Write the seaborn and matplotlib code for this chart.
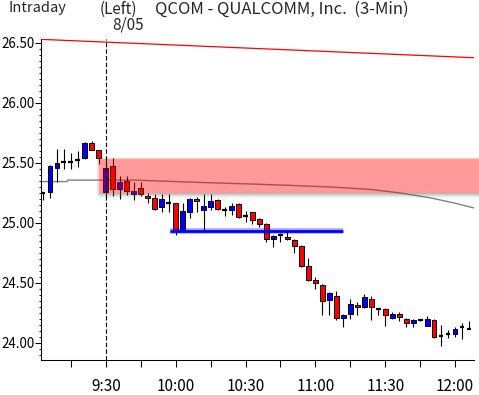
import numpy as np
import pandas as pd
import matplotlib
matplotlib.use("Agg")
import matplotlib.pyplot as plt
import seaborn as sns
from matplotlib import font_manager
from matplotlib.ticker import MultipleLocator, FixedLocator

sns.set_style("white")


def pick_font(cands):
    for c in cands:
        try:
            font_manager.findfont(font_manager.FontProperties(family=c), fallback_to_default=False)
            return c
        except Exception:
            pass
    return "DejaVu Sans"


FONT = pick_font(["Liberation Sans Narrow", "DejaVu Sans Condensed", "Noto Sans CJK JP"])
plt.rcParams['font.family'] = [FONT, 'DejaVu Sans']

# ---------------- data ----------------
# candle time, minutes after 9:00
minutes = [3, 6, 9, 12, 15, 18, 21, 24, 27, 30, 33, 36, 39, 42, 45, 48, 51, 54, 57, 60,
           63, 66, 69, 72, 75, 78, 81, 84, 87, 90, 93, 96, 99, 102, 105, 108, 111, 114, 117, 120,
           123, 126, 129, 132, 135, 138, 141, 144, 147, 150, 153, 156, 159, 162, 165, 168, 171, 174, 177, 180,
           183, 186]
opens = [25.25, 25.26, 25.46, 25.51, 25.51, 25.525, 25.54, 25.67, 25.61, 25.255,
         25.475, 25.28, 25.35, 25.24, 25.29, 25.225, 25.205, 25.13, 25.17, 25.17,
         24.94, 25.095, 25.20, 25.11, 25.13, 25.19, 25.11, 25.11, 25.16, 25.06,
         25.09, 25.03, 24.99, 24.865, 24.90, 24.885, 24.86, 24.81, 24.64, 24.525,
         24.485, 24.36, 24.39, 24.205, 24.24, 24.32, 24.30, 24.37, 24.285, 24.28,
         24.205, 24.245, 24.20, 24.165, 24.19, 24.14, 24.19, 24.06, 24.075, 24.075,
         24.13, 24.12]
highs = [25.26, 25.48, 25.62, 25.62, 25.58, 25.60, 25.675, 25.68, 25.61, 25.54,
         25.54, 25.39, 25.39, 25.34, 25.34, 25.25, 25.24, 25.24, 25.24, 25.17,
         25.165, 25.21, 25.22, 25.24, 25.24, 25.20, 25.13, 25.165, 25.165, 25.10,
         25.095, 25.04, 25.00, 24.90, 24.92, 24.94, 24.865, 24.815, 24.71, 24.55,
         24.49, 24.425, 24.43, 24.24, 24.37, 24.345, 24.41, 24.395, 24.29, 24.29,
         24.26, 24.26, 24.205, 24.20, 24.195, 24.225, 24.20, 24.15, 24.11, 24.135,
         24.165, 24.18]
lows = [25.19, 25.21, 25.34, 25.45, 25.45, 25.47, 25.535, 25.61, 25.49, 25.225,
        25.225, 25.20, 25.23, 25.19, 25.225, 25.165, 25.11, 25.09, 25.09, 24.90,
        24.935, 25.04, 25.095, 24.93, 25.11, 25.11, 25.06, 25.065, 25.04, 25.005,
        24.99, 24.97, 24.845, 24.80, 24.845, 24.86, 24.75, 24.63, 24.52, 24.45,
        24.235, 24.235, 24.19, 24.135, 24.20, 24.235, 24.29, 24.19, 24.235, 24.14,
        24.20, 24.18, 24.13, 24.13, 24.18, 24.14, 24.045, 23.975, 24.04, 24.05,
        24.03, 24.115]
closes = [25.25, 25.475, 25.50, 25.51, 25.51, 25.525, 25.67, 25.61, 25.545, 25.455,
          25.28, 25.34, 25.265, 25.265, 25.245, 25.205, 25.115, 25.20, 25.17, 24.94,
          25.10, 25.20, 25.18, 25.14, 25.185, 25.12, 25.11, 25.14, 25.05, 25.06,
          25.025, 24.99, 24.865, 24.89, 24.90, 24.865, 24.81, 24.64, 24.525, 24.50,
          24.35, 24.42, 24.205, 24.23, 24.325, 24.297, 24.38, 24.30, 24.285, 24.235,
          24.245, 24.215, 24.165, 24.19, 24.19, 24.20, 24.05, 24.06, 24.075, 24.12,
          24.13, 24.12]

# moving average line (grey)
ma_minutes = [2.2, 13.4, 13.6, 42.6, 59.7, 74.8, 91.9, 109.1, 126.2, 143.4, 156.3, 169.2, 179.9, 188.1]
ma_values = [25.345, 25.345, 25.357, 25.357, 25.345, 25.335, 25.325, 25.313, 25.30, 25.28, 25.25, 25.21, 25.165, 25.125]

# red trend line
trend_minutes = [2.2, 188.1]
trend_values = [26.53, 26.377]

# blue support line
support_minutes = [57.6, 131.8]
support_value = 24.933

# resistance zone
zone_start = 26.8
zone_low, zone_high = 25.2525, 25.54

session_open = 30
xtick_major = [30, 60, 90, 120, 150, 180]
xtick_labels = ["9:30", "10:00", "10:30", "11:00", "11:30", "12:00"]
xtick_minor = [15, 45, 75, 105, 135, 165]
ytick_major = [24.0, 24.5, 25.0, 25.5, 26.0, 26.5]

# ---------------- figure ----------------
W, H = 479, 395
fig = plt.figure(figsize=(W / 100, H / 100), dpi=100)
ax = fig.add_axes([41 / W, 35 / H, (474 - 41) / W, (360 - 39) / H])
XMIN, XMAX = 2.2, 188.1
YMIN, YMAX = 23.858, 26.533

df = pd.DataFrame(dict(t=minutes, o=opens, h=highs, l=lows, c=closes))
up = df.c > df.o + 1e-9
dn = df.c < df.o - 1e-9
flat = ~(up | dn)

# grey MA
sns.lineplot(x=ma_minutes, y=ma_values, color="#808080", lw=1.0, ax=ax, zorder=1, sort=False)
# red trend
sns.lineplot(x=trend_minutes, y=trend_values, color="#ff0000", lw=0.9, ax=ax, zorder=1, sort=False)

# candles
ax.vlines(df.t, df.l, df.h, color="black", lw=0.8, zorder=2)
bw = 2.0
ax.bar(df.t[up], (df.c - df.o)[up], bottom=df.o[up], width=bw, color="#0000ff",
       edgecolor="black", linewidth=0.7, zorder=3)
ax.bar(df.t[dn], (df.o - df.c)[dn], bottom=df.c[dn], width=bw, color="#ff0000",
       edgecolor="black", linewidth=0.7, zorder=3)
ax.hlines(df.c[flat], df.t[flat] - bw / 2, df.t[flat] + bw / 2, color="black", lw=1.6, zorder=3)

# resistance zone with soft edges + shadow
ny, nx = 240, 400
y0, y1 = zone_low - 0.05, zone_high + 0.02
x0, x1 = zone_start - 1.2, XMAX + 3
ys = np.linspace(y0, y1, ny)
xs = np.linspace(x0, x1, nx)
img = np.zeros((ny, nx, 4))
for i, yv in enumerate(ys):
    if yv >= zone_low:
        a = 0.40 * np.clip((zone_high + 0.008 - yv) / 0.016, 0, 1)
        img[i, :, :3] = [1.0, 0.0, 0.0]
        img[i, :, 3] = a
    else:
        d = (zone_low - yv) / 0.05
        img[i, :, :3] = [0.35, 0.35, 0.35]
        img[i, :, 3] = 0.5 * np.clip(1 - d, 0, 1) ** 1.5
fade = np.clip((xs - x0) / 1.6, 0, 1)
img[:, :, 3] *= fade[None, :]
ax.imshow(img, extent=[x0, x1, y0, y1], origin="lower", aspect="auto", zorder=4,
          interpolation="bilinear", clip_on=False)

# support line (blurred blue)
ax.plot(support_minutes, [support_value] * 2, color="#0000ff", lw=4.0, alpha=0.35, zorder=5,
        solid_capstyle="butt")
ax.plot(support_minutes, [support_value] * 2, color="#0000ff", lw=2.0, zorder=5, solid_capstyle="butt")

# session-open dashed line
ax.axvline(session_open, color="black", lw=0.8, ls=(0, (4, 2)), zorder=6)

ax.set_xlim(XMIN, XMAX)
ax.set_ylim(YMIN, YMAX)
ax.xaxis.set_major_locator(FixedLocator(xtick_major))
ax.xaxis.set_minor_locator(FixedLocator(xtick_minor))
ax.set_xticklabels(xtick_labels)
ax.yaxis.set_major_locator(FixedLocator(ytick_major))
ax.yaxis.set_minor_locator(MultipleLocator(0.05))
ax.set_yticklabels([f"{v:.2f}" for v in ytick_major])
ax.tick_params(axis="x", which="both", direction="out", length=5.2, width=0.75, pad=8,
               labelsize=11, colors="black", bottom=True)
ax.tick_params(axis="y", which="major", direction="out", length=4.3, width=0.75, pad=0.5,
               labelsize=9.6, colors="black", left=True)
ax.tick_params(axis="y", which="minor", direction="out", length=1.6, width=0.75, left=True)
for s in ["top", "right"]:
    ax.spines[s].set_visible(False)
for s in ["left", "bottom"]:
    ax.spines[s].set_color("black")
    ax.spines[s].set_linewidth(0.75)
ax.set_xlabel("")
ax.set_ylabel("")
ax.grid(False)

# header texts
fig.text(8 / W, 1 - 1 / H, "Intraday", fontsize=10.5, va="top", ha="left")
fig.text(100 / W, 1 - 1 / H, "(Left)", fontsize=11, va="top", ha="left")
fig.text(155 / W, 1 - 1 / H, "QCOM - QUALCOMM, Inc.  (3-Min)", fontsize=12, va="top", ha="left")
fig.text(112 / W, 1 - 16 / H, "8/05", fontsize=11, va="top", ha="left")

fig.savefig("out.png", dpi=100)
